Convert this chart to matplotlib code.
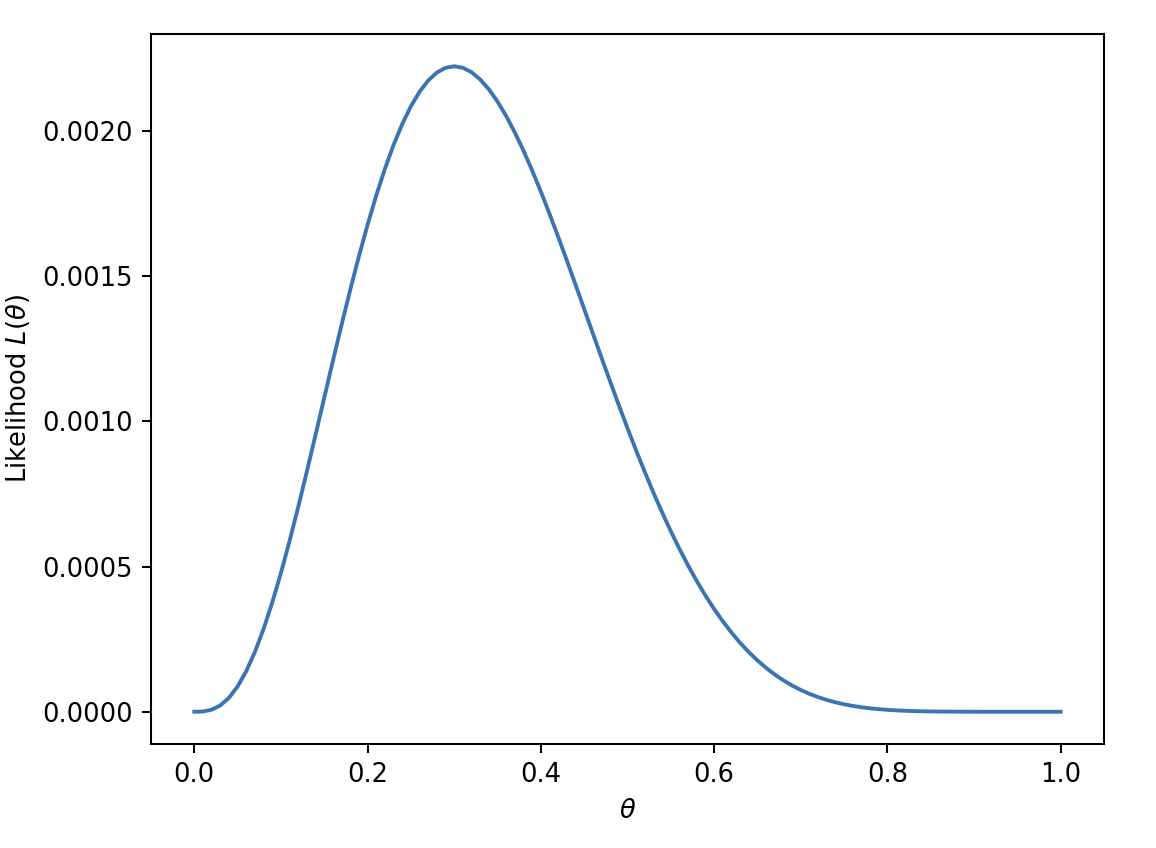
import matplotlib
matplotlib.use("Agg")
import matplotlib.pyplot as plt

# theta grid (step 0.01) and likelihood values
theta = [0.00, 0.01, 0.02, 0.03, 0.04, 0.05, 0.06, 0.07, 0.08, 0.09,
         0.10, 0.11, 0.12, 0.13, 0.14, 0.15, 0.16, 0.17, 0.18, 0.19,
         0.20, 0.21, 0.22, 0.23, 0.24, 0.25, 0.26, 0.27, 0.28, 0.29,
         0.30, 0.31, 0.32, 0.33, 0.34, 0.35, 0.36, 0.37, 0.38, 0.39,
         0.40, 0.41, 0.42, 0.43, 0.44, 0.45, 0.46, 0.47, 0.48, 0.49,
         0.50, 0.51, 0.52, 0.53, 0.54, 0.55, 0.56, 0.57, 0.58, 0.59,
         0.60, 0.61, 0.62, 0.63, 0.64, 0.65, 0.66, 0.67, 0.68, 0.69,
         0.70, 0.71, 0.72, 0.73, 0.74, 0.75, 0.76, 0.77, 0.78, 0.79,
         0.80, 0.81, 0.82, 0.83, 0.84, 0.85, 0.86, 0.87, 0.88, 0.89,
         0.90, 0.91, 0.92, 0.93, 0.94, 0.95, 0.96, 0.97, 0.98, 0.99,
         1.00]
likelihood = [0.0, 9.3e-07, 6.95e-06, 2.182e-05, 4.809e-05, 8.729e-05, 1.4007e-04, 2.0638e-04, 2.8562e-04, 3.7672e-04,
              4.7830e-04, 5.8872e-04, 7.0619e-04, 8.2883e-04, 9.5471e-04, 1.0819e-03, 1.2087e-03, 1.3332e-03, 1.4538e-03, 1.5691e-03,
              1.6777e-03, 1.7785e-03, 1.8704e-03, 1.9526e-03, 2.0245e-03, 2.0857e-03, 2.1357e-03, 2.1745e-03, 2.2019e-03, 2.2182e-03,
              2.2236e-03, 2.2183e-03, 2.2030e-03, 2.1780e-03, 2.1441e-03, 2.1018e-03, 2.0519e-03, 1.9952e-03, 1.9324e-03, 1.8642e-03,
              1.7916e-03, 1.7152e-03, 1.6358e-03, 1.5543e-03, 1.4712e-03, 1.3873e-03, 1.3032e-03, 1.2196e-03, 1.1370e-03, 1.0558e-03,
              9.766e-04, 8.997e-04, 8.255e-04, 7.542e-04, 6.863e-04, 6.217e-04, 5.607e-04, 5.034e-04, 4.498e-04, 4.000e-04,
              3.539e-04, 3.115e-04, 2.727e-04, 2.374e-04, 2.054e-04, 1.767e-04, 1.510e-04, 1.282e-04, 1.080e-04, 9.04e-05,
              7.50e-05, 6.17e-05, 5.04e-05, 4.07e-05, 3.25e-05, 2.575e-05, 2.01e-05, 1.55e-05, 1.18e-05, 8.9e-06,
              6.55e-06, 4.75e-06, 3.38e-06, 2.35e-06, 1.59e-06, 1.05e-06, 6.7e-07, 4.1e-07, 2.4e-07, 1.4e-07,
              7.0e-08, 3.0e-08, 1.0e-08, 0.0, 0.0, 0.0, 0.0, 0.0, 0.0, 0.0,
              0.0]

fig = plt.figure(figsize=(6.249, 4.584), dpi=185)
ax = fig.add_axes([0.1306, 0.1226, 0.8244, 0.8373])
ax.plot(theta, likelihood, color='#3a75b2', linewidth=1.5)

ax.set_xlabel(r'$\theta$')
ax.set_ylabel(r'Likelihood $L(\theta)$')
ax.set_yticks([0.0, 0.0005, 0.0010, 0.0015, 0.0020])
ax.set_yticklabels(['0.0000', '0.0005', '0.0010', '0.0015', '0.0020'])

fig.savefig('out.png', dpi=185)
